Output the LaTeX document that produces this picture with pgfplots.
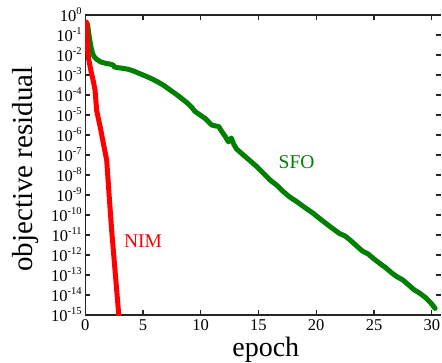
\documentclass[border=0pt]{standalone}
\usepackage{fontspec}
\setmainfont{Liberation Serif}
\usepackage{pgfplots}
\pgfplotsset{compat=1.18}
\definecolor{sfo}{rgb}{0,0.5,0}
\definecolor{axc}{gray}{0.15}
\newcommand\ylab[1]{10\raisebox{0.42em}{\fontsize{10.5}{11}\selectfont #1}}
\begin{document}
\begin{tikzpicture}
\begin{axis}[name=main,
  scale only axis, width=355.8pt, height=300pt,
  xmin=0, xmax=30.8,
  ymode=log, ymin=1e-15, ymax=1,
  ytick={1e-15,1e-14,1e-13,1e-12,1e-11,1e-10,1e-9,1e-8,1e-7,1e-6,1e-5,1e-4,1e-3,1e-2,1e-1,1},
  yminorticks=false,
  xtick={0,5,10,15,20,25,30},
  tick align=inside,
  major tick length=5pt,
  tick style={axc, line width=1.2pt},
  axis line style={axc, line width=1.3pt},
  tick label style={font=\fontsize{16.5}{18}\selectfont},
  xticklabel style={inner sep=1pt, yshift=-3.5pt},
  axis x line*=box, axis y line*=left,
  xticklabels={0,5,10,15,20,25,30},
  yticklabels={\ylab{-15},\ylab{-14},\ylab{-13},\ylab{-12},\ylab{-11},\ylab{-10},\ylab{-9},\ylab{-8},\ylab{-7},\ylab{-6},\ylab{-5},\ylab{-4},\ylab{-3},\ylab{-2},\ylab{-1},\ylab{0}},
  xlabel={epoch}, ylabel={objective residual},
  label style={font=\fontsize{29}{32}\selectfont, inner sep=1pt},
  xlabel style={font=\fontsize{28}{30}\selectfont, at={(axis description cs:0.5076,-0.138)}, anchor=base},
  ylabel style={at={(axis description cs:-0.147,0.487)}, anchor=base},
]
\addplot[sfo, line width=5pt, line join=round, line cap=round] coordinates {
(0.2,3.55e-1) (0.35,7.94e-2) (0.5,2.51e-2) (0.65,1.12e-2) (0.8,7.94e-3)
(1.0,6.03e-3) (1.35,4.47e-3) (1.8,3.80e-3) (2.2,3.47e-3) (2.4,3.16e-3)
(2.55,2.51e-3) (2.8,2.34e-3) (3.3,2.14e-3) (3.7,1.95e-3) (4.2,1.58e-3)
(4.8,1.12e-3) (5.3,8.51e-4) (5.8,6.31e-4) (6.3,4.47e-4) (6.8,3.02e-4)
(7.3,1.86e-4) (7.8,1.17e-4) (8.3,7.08e-5) (8.8,4.17e-5) (9.2,2.51e-5)
(9.5,1.51e-5) (10.0,9.55e-6) (10.4,6.61e-6) (10.95,3.16e-6) (11.3,2.82e-6)
(11.55,2.69e-6) (11.85,1.41e-6) (12.1,8.91e-7) (12.4,4.57e-7) (12.65,7.08e-7)
(12.85,3.55e-7) (13.1,2.00e-7) (13.69,1.00e-7) (14.2,5.62e-8) (14.85,2.63e-8)
(15.4,1.26e-8) (16.0,5.62e-9) (16.6,3.02e-9) (17.15,1.48e-9) (17.7,7.94e-10)
(18.31,4.68e-10) (19.0,2.40e-10) (19.75,1.20e-10) (20.5,5.37e-11) (21.2,2.63e-11)
(22.0,1.20e-11) (22.5,8.91e-12) (22.93,5.62e-12) (23.5,2.82e-12) (24.0,1.58e-12)
(24.5,1.12e-12) (24.94,6.76e-13) (25.5,3.80e-13) (26.0,2.34e-13) (26.5,1.32e-13)
(26.97,8.32e-14) (27.5,5.62e-14) (28.0,3.16e-14) (28.5,1.78e-14) (28.99,1.20e-14)
(29.5,7.08e-15) (30.0,3.55e-15) (30.29,2.14e-15)
};
\addplot[red, line width=5pt, line join=round, line cap=round] coordinates {
(0.1,4.47e-1) (0.15,1.0e-1) (0.22,1.58e-2) (0.3,6.31e-3) (0.5,1.58e-3)
(0.7,5.01e-4) (0.85,1.78e-4) (1.0,1.58e-5) (1.3,2.51e-6) (1.6,3.16e-7)
(1.86,5.62e-8) (2.07,1e-9) (2.29,1.78e-11) (2.58,1.78e-13) (2.87,1.78e-15)
(2.95,3.16e-16)
};
\node[text=sfo, font=\fontsize{19.5}{21}\selectfont] at (axis cs:18.3,4.47e-8) {SFO};
\node[text=red, font=\fontsize{19.5}{21}\selectfont] at (axis cs:5.0,5.01e-12) {NIM};
\end{axis}
\begin{axis}[
  scale only axis, width=355.8pt, height=300pt,
  xmin=0, xmax=30.8,
  ymode=log, ymin=1e-15, ymax=1,
  ytick={1e-15,1e-14,1e-13,1e-12,1e-11,1e-10,1e-9,1e-8,1e-7,1e-6,1e-5,1e-4,1e-3,1e-2,1e-1,1},
  yminorticks=false,
  tick align=inside,
  major tick length=5pt,
  tick style={axc, line width=1.2pt},
  axis x line=none, axis y line*=right,
  y axis line style={draw=none},
  yticklabels={},
]
\addplot[draw=none] coordinates {(1,1e-5)};
\end{axis}
\pgfresetboundingbox
\path[use as bounding box] (main.south west) ++(-85.2pt,-47pt) rectangle ++(442pt,362pt);
\end{tikzpicture}
\end{document}
